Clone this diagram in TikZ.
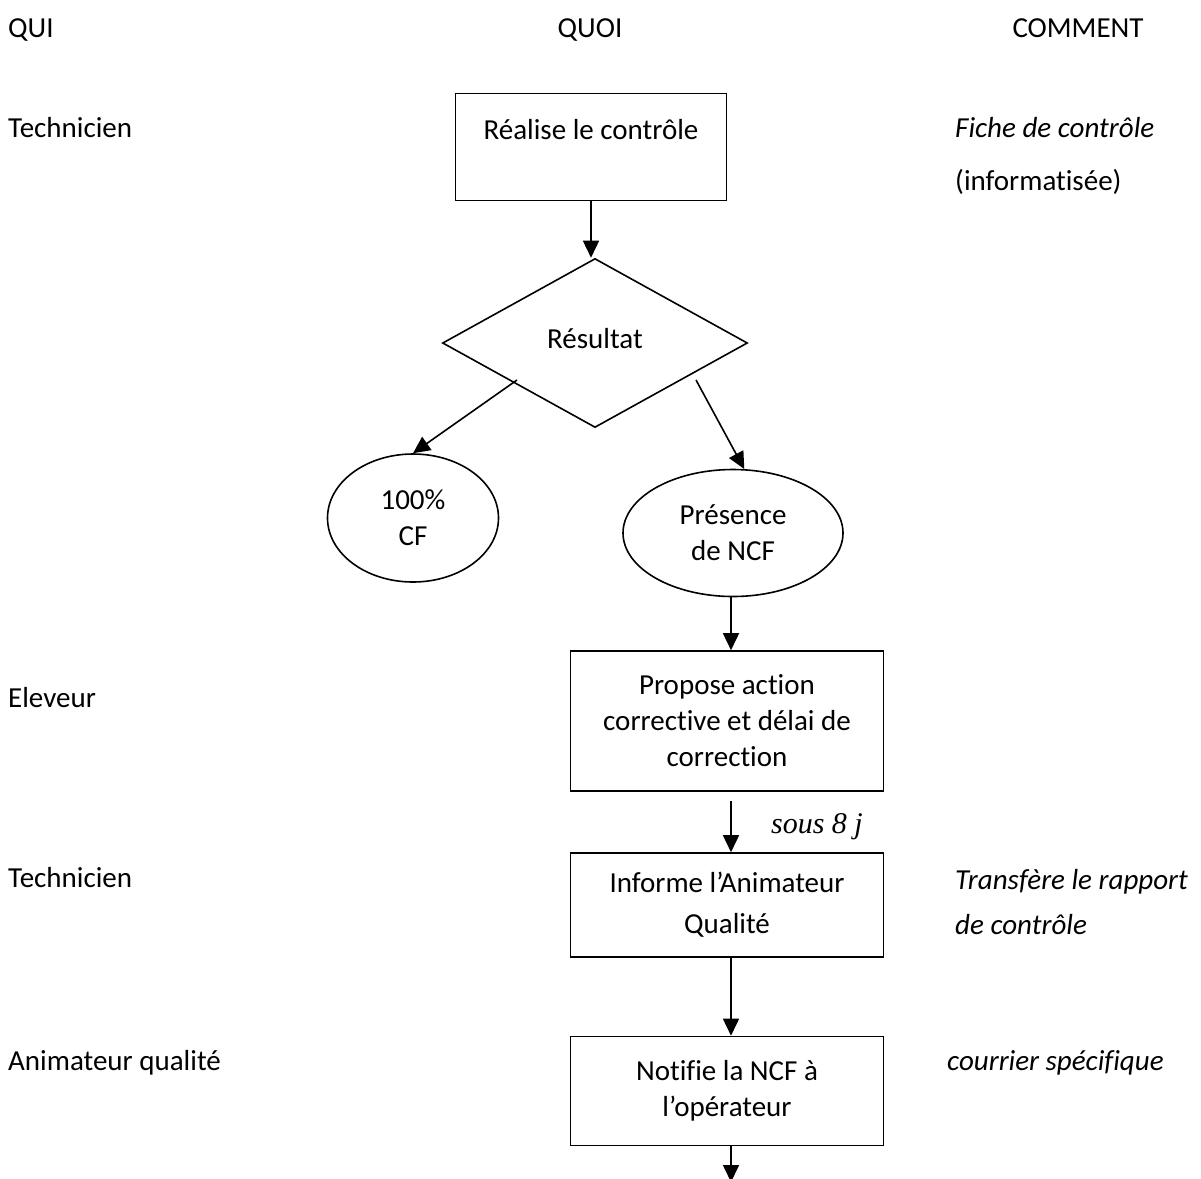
\documentclass[tikz,border=0pt]{standalone}
\usepackage{fontspec}
\setmainfont{Carlito}[Ligatures=NoCommon]
\newfontfamily\timesit{Liberation Serif}
\usetikzlibrary{shapes.geometric,arrows.meta}
\tikzset{
  etape/.style={draw,line width=1.6pt,rectangle,align=center,inner sep=0pt},
  choix/.style={draw,line width=1.6pt,diamond,inner sep=0pt,minimum width=305pt,minimum height=169pt},
  issue/.style={draw,line width=1.6pt,ellipse,align=center,inner sep=0pt},
  fleche/.style={line width=1.6pt,-{Triangle[length=17pt,width=16pt]}},
  txt/.style={anchor=base west,inner sep=0pt},
}
\begin{document}
\begin{tikzpicture}[x=1pt,y=-1pt,font=\fontsize{29}{36}\selectfont]
  \useasboundingbox (0,0) rectangle (1201,1178);
  % en-tetes
  \node[txt] (qui) at (8,37) {QUI};
  \node[anchor=base,inner sep=0pt] (quoi) at (590,37) {QUOI};
  \node[anchor=base,inner sep=0pt] (comment) at (1078,37) {COMMENT};
  % qui
  \node[txt] (tech1) at (8,137) {Technicien};
  \node[txt] (elev) at (8,707) {Eleveur};
  \node[txt] (tech2) at (8,887) {Technicien};
  \node[txt] (anim) at (8,1070) {Animateur qualité};
  % comment
  \node[txt] (fiche) at (955,137) {\itshape Fiche de contrôle};
  \node[txt] (info) at (955,190) {(informatisée)};
  \node[txt] (transf) at (955,889) {\itshape Transfère le rapport};
  \node[txt] (transf2) at (955,934) {\itshape de contrôle};
  \node[txt] (courrier) at (947,1070) {\itshape courrier spécifique};
  % quoi
  \node[etape,minimum width=271pt,minimum height=107pt] (ctrl) at (591,147) {Réalise le contrôle\\\mbox{}};
  \node[choix] (res) at (595,343) {\raisebox{10pt}{Résultat}};
  \node[issue,minimum width=171pt,minimum height=128pt] (cf) at (413,518) {100\%\\CF};
  \node[issue,minimum width=220pt,minimum height=127pt] (ncf) at (733,533) {Présence\\de NCF};
  \node[etape,minimum width=313pt,minimum height=140pt] (prop) at (727,721) {Propose action\\corrective et délai de\\correction};
  \node[etape,minimum width=313pt,minimum height=104pt] (inf) at (727,905) {\raisebox{5pt}{Informe l’Animateur}\\Qualité};
  \node[etape,minimum width=313pt,minimum height=109pt] (notif) at (727,1091) {Notifie la NCF à\\l’opérateur};
  \coordinate (dl) at (517,380);
  \coordinate (dr) at (696,380);
  \coordinate (fin) at (731,1182);
  % fleches
  \draw[fleche] (ctrl.south) -- (ctrl.south |- res.north);
  \draw[fleche] (dl) -- (cf.north);
  \draw[fleche] (dr) -- (ncf.80);
  \draw[fleche] (ncf.south -| prop.north) ++(4,0) -- ([xshift=4pt]prop.north);
  \draw[fleche] ([xshift=4pt,yshift=-9pt]prop.south) -- node[right=36pt,font=\fontsize{30}{36}\timesit\itshape] {sous 8 j} ([xshift=4pt]inf.north);
  \draw[fleche] ([xshift=4pt]inf.south) -- ([xshift=4pt]notif.north);
  \draw[fleche] ([xshift=4pt]notif.south) -- (fin);
\end{tikzpicture}
\end{document}
